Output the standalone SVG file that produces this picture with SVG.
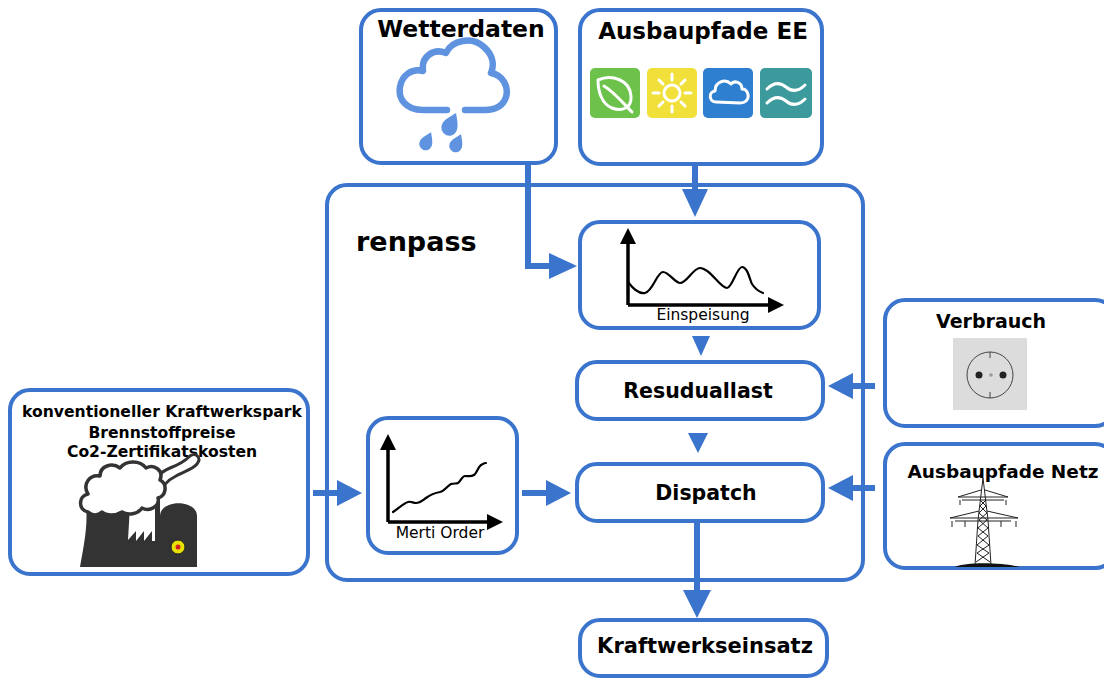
<svg xmlns="http://www.w3.org/2000/svg" width="1104" height="679" viewBox="0 0 1104 679">
  <style>
    .box { fill: #ffffff; stroke: #3a74cc; stroke-width: 4; }
    .frame { fill: none; stroke: #3a74cc; stroke-width: 4; }
    .title { font-family: "DejaVu Sans", "Liberation Sans", sans-serif; font-weight: bold; fill: #000; text-anchor: middle; }
    .label { font-family: "DejaVu Sans", "Liberation Sans", sans-serif; fill: #000; text-anchor: middle; }
    .wire { fill: none; stroke: #3a74cc; stroke-width: 6; }
    .head { fill: #3a74cc; }
    .axis { fill: none; stroke: #000; stroke-width: 3.5; }
    .curve { fill: none; stroke: #000; stroke-width: 2.2; stroke-linejoin: round; stroke-linecap: round; }
    .ico { fill: none; stroke: #ffffff; stroke-width: 3; stroke-linecap: round; stroke-linejoin: round; }
  </style>

  <!-- model frame -->
  <g id="renpass">
    <rect class="frame" x="327" y="185" width="536" height="395" rx="20"/>
    <text class="title" x="356" y="251" font-size="27" style="text-anchor:start">renpass</text>
  </g>

  <g id="wetterdaten">
    <rect class="box" x="361" y="10" width="195" height="153" rx="20"/>
    <text class="title" x="461" y="37" font-size="23.5">Wetterdaten</text>
    <path d="M447,110 L423,110 C405,110 398,98 400,87 C402,75 412,68 423,71 C421,56 434,48 446,53 C452,40 472,36 484,47 C494,56 494,66 491,73 C503,75 509,87 506,97 C503,106 495,110 485,110 L465,110" fill="none" stroke="#5f93e0" stroke-width="6.5" stroke-linecap="round" stroke-linejoin="round"/>
    <g fill="#5f93e0">
      <path transform="translate(451,124) rotate(25)" d="M0,-12 C4,-6 8,-1 8,4 A8,8 0 0 1 -8,4 C-8,-1 -4,-6 0,-12 Z"/>
      <path transform="translate(427,141) rotate(25) scale(0.8)" d="M0,-12 C4,-6 8,-1 8,4 A8,8 0 0 1 -8,4 C-8,-1 -4,-6 0,-12 Z"/>
      <path transform="translate(457,143) rotate(25) scale(0.8)" d="M0,-12 C4,-6 8,-1 8,4 A8,8 0 0 1 -8,4 C-8,-1 -4,-6 0,-12 Z"/>
    </g>
  </g>

  <g id="ausbaupfade-ee">
    <rect class="box" x="580" y="10" width="242" height="154" rx="20"/>
    <text class="title" x="703" y="39" font-size="23">Ausbaupfade EE</text>
    <!-- biomass -->
    <rect x="590" y="68" width="50" height="50" rx="5" fill="#6cc24a"/>
    <path class="ico" d="M598,80 C612,74 630,80 631,96 C632,108 622,112 612,108 C602,104 598,92 598,80 Z"/>
    <path class="ico" d="M604,86 C614,92 622,102 632,112"/>
    <!-- solar -->
    <rect x="647" y="68" width="50" height="50" rx="5" fill="#f2e03a"/>
    <circle cx="672" cy="93" r="8" fill="none" stroke="#fff" stroke-width="3"/>
    <g class="ico">
      <line x1="672" y1="74" x2="672" y2="80"/>
      <line x1="672" y1="106" x2="672" y2="112"/>
      <line x1="653" y1="93" x2="659" y2="93"/>
      <line x1="685" y1="93" x2="691" y2="93"/>
      <line x1="659" y1="80" x2="663" y2="84"/>
      <line x1="681" y1="102" x2="685" y2="106"/>
      <line x1="685" y1="80" x2="681" y2="84"/>
      <line x1="663" y1="102" x2="659" y2="106"/>
    </g>
    <!-- wind -->
    <rect x="703" y="68" width="50" height="50" rx="5" fill="#2e7fd0"/>
    <path class="ico" d="M716,102 C709,102 708,92 715,91 C715,82 725,78 731,84 C734,80 742,82 742,89 C748,89 750,97 746,101 C744,103 742,103 740,103 Z"/>
    <!-- hydro -->
    <rect x="760" y="68" width="52" height="50" rx="5" fill="#3c9a9c"/>
    <path class="ico" d="M767,89 C774,82 780,82 786,87 C792,92 798,92 805,85"/>
    <path class="ico" d="M767,103 C774,96 780,96 786,101 C792,106 798,106 805,99"/>
  </g>

  <g id="einspeisung">
    <rect class="box" x="580" y="222" width="239" height="106" rx="20"/>
    <line class="axis" x1="628" y1="240" x2="628" y2="305"/>
    <polygon points="628,228 620,244 636,244" fill="#000"/>
    <line class="axis" x1="628" y1="305" x2="770" y2="305"/>
    <polygon points="784,305 768,297 768,313" fill="#000"/>
    <path class="curve" d="M628,282 C634,290 640,294 645,293 C653,291 657,272 663,272 C669,272 675,283 680,283 C687,283 693,268 700,268 C710,268 720,288 727,288 C732,288 737,267 742,267 C748,267 750,281 752,284 C756,290 760,292 763,293"/>
    <text class="label" x="703" y="320" font-size="15.5">Einspeisung</text>
  </g>

  <g id="resuduallast">
    <rect class="box" x="577" y="362" width="246" height="57" rx="20"/>
    <text class="title" x="698" y="398" font-size="20.5">Resuduallast</text>
  </g>

  <g id="dispatch">
    <rect class="box" x="577" y="464" width="246" height="57" rx="20"/>
    <text class="title" x="706" y="500" font-size="20.5">Dispatch</text>
  </g>

  <g id="kraftwerkseinsatz">
    <rect class="box" x="580" y="620" width="247" height="56" rx="20"/>
    <text class="title" x="705" y="653" font-size="21">Kraftwerkseinsatz</text>
  </g>

  <g id="merit-order">
    <rect class="box" x="368" y="418" width="149" height="135" rx="20"/>
    <line class="axis" x1="388" y1="446" x2="388" y2="522"/>
    <polygon points="388,434 380,450 396,450" fill="#000"/>
    <line class="axis" x1="388" y1="522" x2="490" y2="522"/>
    <polygon points="503,522 487,514 487,530" fill="#000"/>
    <path class="curve" d="M393,512 C399,508 404,503 408,502 C411,501 413,503 416,503 C420,503 423,500 426,498 C430,495 434,493 440,492 C445,491 447,486 451,484 C454,483 456,484 458,483 C461,481 462,476 465,476 C468,476 471,477 474,475 C477,473 478,467 481,465 C483,464 484,463 486,463"/>
    <text class="label" x="440" y="538" font-size="15.5">Merti Order</text>
  </g>

  <g id="kraftwerkspark">
    <rect class="box" x="10" y="390" width="298" height="184" rx="20"/>
    <text class="title" x="162" y="417" font-size="15.6">konventioneller Kraftwerkspark</text>
    <text class="title" x="162" y="438" font-size="15.6">Brennstoffpreise</text>
    <text class="title" x="162" y="457" font-size="15.6">Co2-Zertifikatskosten</text>
    <!-- cooling tower, sawtooth hall and chimney -->
    <path d="M80,567 C84,545 88,525 86,506 L130,506 L128,540 L136,531 L136,541 L144,531 L144,541 L152,531 L152,541 L155,541 L155,490 L160,490 L160,567 Z" fill="#333333"/>
    <!-- domed reactor building -->
    <path d="M160,567 L160,516 C160,499 197,499 197,516 L197,567 Z" fill="#333333"/>
    <!-- smoke plume from the chimney -->
    <path d="M154,492 C152,480 160,472 170,468 C178,465 186,460 190,456 C196,452 202,458 197,464 C192,470 182,472 176,476 C168,480 162,486 161,494 Z" fill="#ffffff" stroke="#333333" stroke-width="3" stroke-linejoin="round"/>
    <!-- steam cloud over the cooling tower -->
    <path d="M88,512 C78,510 78,496 88,494 C82,484 90,474 100,476 C100,466 112,462 120,468 C126,460 140,460 146,468 C154,464 164,470 160,480 C168,484 166,496 158,498 C160,506 150,512 142,508 C138,514 128,516 122,512 C116,516 106,516 102,512 C98,516 92,516 88,512 Z" fill="#ffffff" stroke="#333333" stroke-width="3.5" stroke-linejoin="round"/>
    <circle cx="178" cy="547" r="7" fill="#e8e000" stroke="#222" stroke-width="1"/>
    <circle cx="178" cy="547" r="2.5" fill="#d02020"/>
  </g>

  <g id="verbrauch">
    <rect class="box" x="885" y="300" width="230" height="126" rx="20"/>
    <text class="title" x="991" y="328" font-size="19">Verbrauch</text>
    <rect x="953" y="338" width="74" height="72" fill="#dcdcdc"/>
    <circle cx="990" cy="375" r="23" fill="none" stroke="#444" stroke-width="1"/>
    <line x1="990" y1="352" x2="990" y2="358" stroke="#444" stroke-width="1"/>
    <line x1="990" y1="392" x2="990" y2="398" stroke="#444" stroke-width="1"/>
    <circle cx="979" cy="375" r="3.5" fill="#222"/>
    <circle cx="1003" cy="375" r="3.5" fill="#222"/>
    <circle cx="991" cy="375" r="1.8" fill="#999"/>
  </g>

  <g id="ausbaupfade-netz">
    <rect class="box" x="885" y="444" width="230" height="124" rx="20"/>
    <text class="title" x="1003" y="478" font-size="18.5">Ausbaupfade Netz</text>
    <!-- transmission pylon -->
    <g fill="none" stroke="#222" stroke-width="1">
      <path d="M983,478 L978,520 L975,565 M983,478 L988,520 L991,565"/>
      <path d="M980,500 L986,506 L979,513 L987,520 L978,528 L988,536 L977,545 L989,553 L976,562"/>
      <path d="M986,500 L980,506 L987,513 L979,520 L988,528 L978,536 L989,545 L977,553 L990,562"/>
      <path d="M958,497 L1008,497 M962,500 L1004,500 M958,497 L981,490 M1008,497 L985,490"/>
      <path d="M950,518 L1018,518 M955,521 L1011,521 M950,518 L979,511 M1018,518 L987,511"/>
      <path d="M960,500 L960,505 M1006,500 L1006,505 M952,521 L952,527 M965,521 L965,527 M1001,521 L1001,527 M1016,521 L1016,527"/>
    </g>
    <path d="M955,567 C965,562 1000,562 1020,567 Z" fill="#111"/>
  </g>

  <!-- connectors -->
  <g id="connectors">
    <path class="wire" d="M528,165 L528,266 L552,266"/>
    <polygon class="head" points="577,266 549,253 549,279"/>

    <line class="wire" x1="695" y1="165" x2="695" y2="192"/>
    <polygon class="head" points="695,217 682,189 708,189"/>

    <polygon class="head" points="701,356 692,336 710,336"/>
    <polygon class="head" points="698,453 688,433 708,433"/>

    <line class="wire" x1="875" y1="386" x2="850" y2="386"/>
    <polygon class="head" points="828,386 853,373 853,399"/>

    <line class="wire" x1="875" y1="488" x2="850" y2="488"/>
    <polygon class="head" points="828,488 853,475 853,501"/>

    <line class="wire" x1="697" y1="523" x2="697" y2="593"/>
    <polygon class="head" points="697,618 683,590 711,590"/>

    <line class="wire" x1="313" y1="493" x2="340" y2="493"/>
    <polygon class="head" points="362,493 337,480 337,506"/>

    <line class="wire" x1="522" y1="493" x2="548" y2="493"/>
    <polygon class="head" points="571,493 546,480 546,506"/>
  </g>
</svg>
